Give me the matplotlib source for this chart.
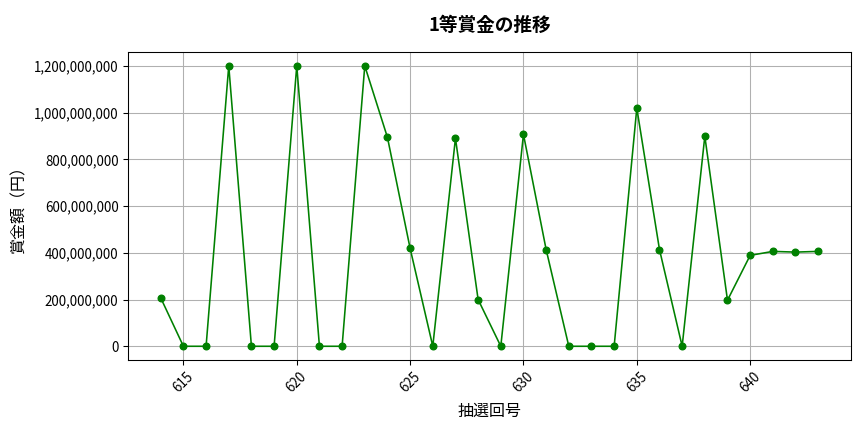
import matplotlib
matplotlib.use("Agg")
import matplotlib.pyplot as plt
from matplotlib.ticker import FuncFormatter

plt.rcParams['font.family'] = ['Noto Sans CJK JP', 'DejaVu Sans']

draws = list(range(614, 644))
prizes = [
    207000000, 0, 0, 1200000000, 0, 0, 1200000000, 0, 0, 1200000000,
    894000000, 419000000, 0, 890000000, 200000000, 0, 907000000, 414000000, 0, 0,
    0, 1019000000, 414000000, 0, 899000000, 197000000, 389000000, 406000000, 403000000, 406000000,
]

fig, ax = plt.subplots(figsize=(9, 4.5), dpi=96)
ax.plot(draws, prizes, marker='o', color='green', linewidth=1.2, markersize=5)

ax.set_title('1等賞金の推移', fontsize=14, fontweight='bold', pad=16)
ax.set_xlabel('抽選回号', fontsize=12, labelpad=6)
ax.set_ylabel('賞金額（円）', fontsize=12, labelpad=5)
ax.yaxis.set_major_formatter(FuncFormatter(lambda v, p: f'{int(v):,}'))
ax.tick_params(axis='x', labelrotation=45)
ax.grid(True)

fig.subplots_adjust(left=0.148, right=0.985, top=0.88, bottom=0.166)
fig.savefig('out.png')
